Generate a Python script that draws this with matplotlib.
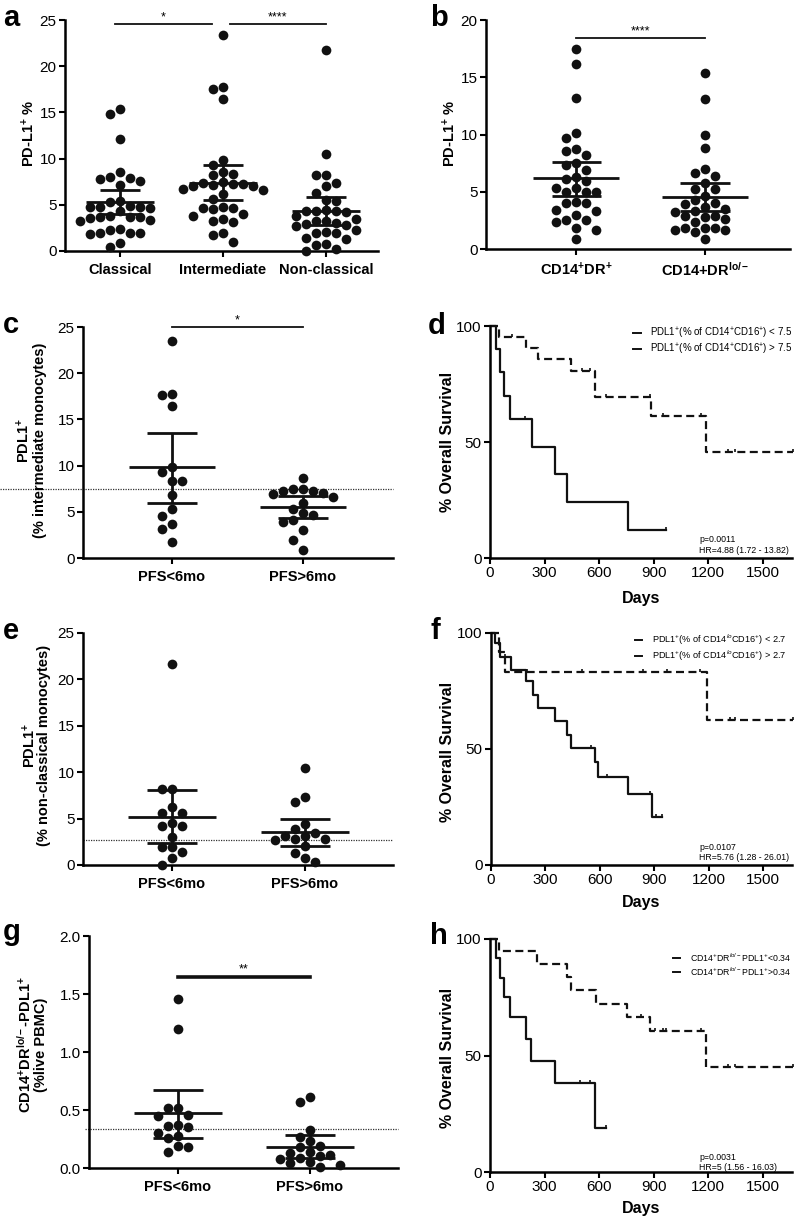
import numpy as np
import matplotlib
matplotlib.use("Agg")
import matplotlib.pyplot as plt
import matplotlib.transforms as mt
from matplotlib.path import Path
from matplotlib.lines import Line2D
from matplotlib.ticker import FormatStrFormatter

# ---------------- DATA ----------------
# panel a
cats_a = ["Classical", "Intermediate", "Non-classical"]
classical = [15.4, 14.8, 12.1, 8.5, 8.0, 7.9, 7.8, 7.6, 7.1, 5.4, 5.3, 4.9, 4.8, 4.8, 4.8, 4.7,
             4.3, 3.8, 3.7, 3.6, 3.7, 3.7, 3.3, 3.4, 2.4, 2.3, 1.9, 1.8, 1.9, 1.9, 0.9, 0.4]
intermediate = [23.4, 17.7, 17.5, 16.5, 9.9, 9.3, 8.6, 8.3, 8.2, 7.5, 7.4, 7.3, 7.2, 7.1, 7.0, 7.0,
                6.6, 6.7, 6.2, 5.6, 4.8, 4.6, 4.7, 4.5, 4.0, 3.8, 3.5, 3.2, 3.1, 2.0, 1.7, 1.0]
nonclassical = [21.7, 10.5, 8.2, 8.2, 7.4, 7.0, 6.3, 5.5, 5.4, 4.4, 4.3, 4.3, 4.3, 4.2, 3.8, 3.5,
                3.2, 3.2, 3.0, 2.9, 2.8, 2.7, 2.3, 2.1, 2.0, 1.9, 1.4, 1.3, 0.8, 0.7, 0.2, 0.0]
mean_a = [5.3, 7.4, 4.3]
lo_a = [4.0, 5.5, 2.8]
hi_a = [6.6, 9.3, 5.8]

# panel b
cats_b = [r"CD14$^{\mathbf{+}}$DR$^{\mathbf{+}}$", r"CD14+DR$^{\mathbf{lo/-}}$"]
dr_pos = [17.5, 16.2, 13.2, 10.1, 9.7, 8.7, 8.6, 8.2, 7.5, 7.3, 6.9, 6.3, 6.1, 5.9, 5.3, 5.3,
          5.0, 5.0, 5.0, 4.1, 4.0, 4.0, 3.4, 3.3, 3.0, 2.5, 2.4, 2.5, 1.8, 1.7, 0.9]
dr_lo = [15.4, 13.1, 10.0, 8.8, 7.0, 6.4, 6.6, 5.8, 5.2, 5.2, 4.6, 4.0, 4.3, 3.7, 3.35, 3.5,
         3.9, 3.2, 2.9, 2.6, 2.4, 2.9, 2.8, 1.8, 1.8, 1.7, 1.5, 1.7, 1.8, 0.9]
mean_b = [6.17, 4.57]
lo_b = [4.66, 3.32]
hi_b = [7.63, 5.8]

cats_pfs = ["PFS<6mo", "PFS>6mo"]
# panel c
c_short = [23.5, 17.6, 17.7, 16.5, 9.9, 9.3, 8.3, 8.3, 6.8, 5.3, 4.5, 3.7, 3.1, 1.7]
c_long = [8.7, 7.5, 7.5, 7.2, 6.9, 6.6, 7.0, 7.2, 6.0, 5.3, 4.9, 4.7, 4.1, 3.9, 3.0, 2.0, 0.9]
mean_c = [9.8, 5.55]
lo_c = [5.95, 4.36]
hi_c = [13.56, 6.71]
thr_c = 7.5

# panel e
e_short = [21.7, 8.15, 8.15, 6.3, 5.55, 5.55, 4.55, 4.25, 4.25, 3.0, 1.97, 1.97, 1.43, 0.72, 0.0]
e_long = [10.5, 7.3, 6.8, 4.4, 3.5, 3.16, 2.7, 3.16, 3.85, 2.8, 2.8, 2.08, 1.26, 0.8, 0.29]
mean_e = [5.2, 3.52]
lo_e = [2.33, 2.08]
hi_e = [8.08, 4.96]
thr_e = 2.7

# panel g
g_short = [1.46, 1.20, 0.52, 0.52, 0.46, 0.45, 0.37, 0.36, 0.35, 0.30, 0.28, 0.26, 0.19, 0.18, 0.14]
g_long = [0.61, 0.57, 0.33, 0.27, 0.23, 0.19, 0.18, 0.14, 0.13, 0.11, 0.10, 0.09, 0.08, 0.05,
          0.04, 0.03, 0.01]
mean_g = [0.471, 0.184]
lo_g = [0.261, 0.083]
hi_g = [0.672, 0.284]
thr_g = 0.34

# survival panels: event days, survival % after event, censor days, last follow-up
d_lo_events = [51, 198, 265, 443, 576, 887, 1185]
d_lo_surv = [95.2, 90.4, 85.6, 80.5, 69.6, 61.2, 45.8]
d_lo_cens = [119, 503, 549, 640, 878, 951, 1161, 1308, 1344, 1664]
d_lo_end = 1664
d_hi_events = [31, 55, 77, 110, 229, 357, 421, 759]
d_hi_surv = [90, 80, 70, 60, 48, 36, 24, 12]
d_hi_cens = [192, 969]
d_hi_end = 969

f_lo_events = [46, 75, 1192]
f_lo_surv = [91.7, 83.3, 62.5]
f_lo_cens = [198, 501, 840, 968, 1152, 1317, 1344, 1665]
f_lo_end = 1665
f_hi_events = [24, 51, 112, 194, 231, 258, 354, 418, 440, 574, 589, 757, 889]
f_hi_surv = [95.7, 89.6, 84.2, 79.1, 73.1, 67.6, 61.9, 56.1, 50.4, 44.3, 38.1, 30.6, 20.6]
f_hi_cens = [75, 550, 638, 877, 910, 941]
f_hi_end = 945

h_lo_events = [51, 260, 421, 443, 585, 754, 882, 1189]
h_lo_surv = [94.7, 89.4, 83.5, 77.9, 72.2, 66.7, 60.5, 45.2]
h_lo_cens = [832, 905, 951, 969, 1158, 1308, 1344, 1664]
h_lo_end = 1664
h_hi_events = [31, 55, 77, 110, 198, 225, 357, 576]
h_hi_surv = [91.7, 83.3, 75.0, 66.7, 57.1, 47.6, 38.1, 19.0]
h_hi_cens = [494, 549, 640]
h_hi_end = 640

# ---------------- STYLE ----------------
plt.rcParams["font.family"] = ["Liberation Sans", "DejaVu Sans"]
plt.rcParams["mathtext.fontset"] = "custom"
plt.rcParams["mathtext.rm"] = "Liberation Sans"
plt.rcParams["mathtext.it"] = "Liberation Sans:italic"
plt.rcParams["mathtext.bf"] = "Liberation Sans:bold"

W, H = 800, 1219
fig = plt.figure(figsize=(W / 100, H / 100), dpi=100)


def add_ax(left, right, top, bottom):
    return fig.add_axes([left / W, 1 - bottom / H, (right - left) / W, (bottom - top) / H])


def fx(x):
    return x / W


def fy(y):
    return 1 - y / H


def style(ax):
    for s in ["top", "right"]:
        ax.spines[s].set_visible(False)
    for s in ["left", "bottom"]:
        ax.spines[s].set_linewidth(1.8)
    ax.tick_params(direction="out", length=4.5, width=1.5, labelsize=11, pad=1.5)


def swarm(ax, center, values, dpx=10.0, diam=9.3):
    values = np.asarray(values, float)
    pts = ax.transData.transform(np.column_stack([np.full(len(values), center), values]))
    ypx = pts[:, 1]
    xscale = ax.transData.transform([[1, 0]])[0, 0] - ax.transData.transform([[0, 0]])[0, 0]
    order = np.argsort(-values, kind="stable")
    placed = []
    offs = np.zeros(len(values))
    cands = [0]
    for k in range(1, 12):
        cands += [-k, k]
    for i in order:
        for k in cands:
            xo = k * dpx
            if all((xo - px) ** 2 + (ypx[i] - py) ** 2 >= diam ** 2 for px, py in placed):
                break
        placed.append((xo, ypx[i]))
        offs[i] = xo
    return center + offs / xscale


def scatter_panel(ax, groups, means, lo, hi, xlim, ylim, yticks, cats):
    style(ax)
    ax.set_xlim(*xlim)
    ax.set_ylim(*ylim)
    ax.set_yticks(yticks)
    for i, vals in enumerate(groups):
        xs = swarm(ax, i, vals)
        ax.plot(xs, vals, "o", color="#111111", ms=7.0, mec="none", clip_on=False, zorder=3)
        ax.hlines(means[i], i - 0.33, i + 0.33, lw=2.0, color="#111111", zorder=4)
        ax.vlines(i, lo[i], hi[i], lw=2.0, color="#111111", zorder=4)
        ax.hlines([lo[i], hi[i]], i - 0.19, i + 0.19, lw=2.0, color="#111111", zorder=4)
    ax.set_xticks(range(len(cats)))
    ax.set_xticklabels(cats, fontweight="bold", fontsize=10.5)
    ax.tick_params(axis="x", pad=4)


def sig(ax, x0, x1, y, label, lw=1.3, tx=None):
    ax.plot([x0, x1], [y, y], color="#111111", lw=lw, clip_on=False)
    if tx is None:
        tx = (x0 + x1) / 2
    ax.annotate(label, (tx, y), xytext=(0, 0.5), textcoords="offset points",
                ha="center", va="bottom", fontsize=9, annotation_clip=False)


def thresh(ax, y, x0px, left, right):
    tr = mt.blended_transform_factory(ax.transAxes, ax.transData)
    xa = (x0px - left) / (right - left)
    ax.plot([xa, 1.0], [y, y], ls=(0, (1, 1)), lw=0.9, color="#333333", transform=tr,
            clip_on=False, zorder=2)


tick_marker = Path([(0, 0), (0, 1)], [Path.MOVETO, Path.LINETO])


def km(ax, events, surv, cens, end, dashed):
    t = np.r_[0, events, end]
    s = np.r_[100, surv, surv[-1]]
    ls = (0, (3.6, 2.0)) if dashed else "-"
    ax.step(t, s, where="post", color="#111111", lw=1.6, ls=ls, clip_on=False)
    idx = np.searchsorted(t, cens, side="right") - 1
    ax.plot(cens, s[idx], ls="none", marker=tick_marker, ms=5, mew=1.2, color="#111111",
            clip_on=False)


def surv_panel(ax, curves):
    style(ax)
    ax.set_xlim(0, 1660)
    ax.set_ylim(0, 100)
    ax.set_xticks([0, 300, 600, 900, 1200, 1500])
    ax.set_yticks([0, 50, 100])
    for c in curves:
        km(ax, *c)


# ---------------- PANELS ----------------
ax_a = add_ax(65, 378, 20, 251)
scatter_panel(ax_a, [classical, intermediate, nonclassical], mean_a, lo_a, hi_a,
              (-0.534, 2.505), (0, 25), [0, 5, 10, 15, 20, 25], cats_a)
sig(ax_a, -0.05, 0.89, 24.6, "*", tx=0.42)
sig(ax_a, 1.07, 2.0, 24.6, "****", tx=1.53)

ax_b = add_ax(486, 790, 20, 249)
scatter_panel(ax_b, [dr_pos, dr_lo], mean_b, lo_b, hi_b,
              (-0.698, 1.659), (0, 20), [0, 5, 10, 15, 20], cats_b)
sig(ax_b, 0, 1, 18.4, "****")

ax_c = add_ax(83, 393, 327, 558)
scatter_panel(ax_c, [c_short, c_long], mean_c, lo_c, hi_c,
              (-0.679, 1.687), (0, 25), [0, 5, 10, 15, 20, 25], cats_pfs)
thresh(ax_c, thr_c, 0, 83, 393)
sig(ax_c, 0, 1, 25.0, "*")

ax_e = add_ax(83, 393, 633, 865)
scatter_panel(ax_e, [e_short, e_long], mean_e, lo_e, hi_e,
              (-0.669, 1.662), (0, 25), [0, 5, 10, 15, 20, 25], cats_pfs)
thresh(ax_e, thr_e, 83, 83, 393)

ax_g = add_ax(89, 398, 936, 1168)
scatter_panel(ax_g, [g_short, g_long], mean_g, lo_g, hi_g,
              (-0.674, 1.667), (0, 2.0), [0, 0.5, 1.0, 1.5, 2.0], cats_pfs)
ax_g.yaxis.set_major_formatter(FormatStrFormatter("%.1f"))
thresh(ax_g, thr_g, 85, 89, 398)
sig(ax_g, 0, 1, 1.65, "**", lw=2.6)

ax_d = add_ax(490, 792, 326, 558)
surv_panel(ax_d, [(d_lo_events, d_lo_surv, d_lo_cens, d_lo_end, True),
                  (d_hi_events, d_hi_surv, d_hi_cens, d_hi_end, False)])
ax_f = add_ax(491, 792, 633, 865)
surv_panel(ax_f, [(f_lo_events, f_lo_surv, f_lo_cens, f_lo_end, True),
                  (f_hi_events, f_hi_surv, f_hi_cens, f_hi_end, False)])
ax_h = add_ax(490, 792, 939, 1172)
surv_panel(ax_h, [(h_lo_events, h_lo_surv, h_lo_cens, h_lo_end, True),
                  (h_hi_events, h_hi_surv, h_hi_cens, h_hi_end, False)])

# ---------------- LABELS ----------------
bold = dict(fontweight="bold", fontsize=10.5, rotation=90, ha="center", va="center")
fig.text(fx(29), fy(133), r"PD-L1$^{\mathbf{+}}$ %", **bold)
fig.text(fx(450), fy(133), r"PD-L1$^{\mathbf{+}}$ %", **bold)
fig.text(fx(31), fy(440), "PDL1$^{\\mathbf{+}}$\n(% intermediate monocytes)", linespacing=1.0, **bold)
fig.text(fx(36), fy(745), "PDL1$^{\\mathbf{+}}$\n(% non-classical monocytes)", linespacing=0.85, **bold)
fig.text(fx(32), fy(1045), "CD14$^{\\mathbf{+}}$DR$^{\\mathbf{lo/-}}$-PDL1$^{\\mathbf{+}}$\n(%live PBMC)",
         linespacing=1.0, **bold)
for yc in (442, 752, 1058):
    fig.text(fx(447), fy(yc), "% Overall Survival", **dict(bold, fontsize=11.5))
for yc in (598, 903, 1209):
    fig.text(fx(641), fy(yc), "Days", fontweight="bold", fontsize=11.5, ha="center", va="center")

# panel letters
for lab, x, y in [("a", 3, 26), ("b", 430, 26), ("c", 3, 333), ("d", 428, 334),
                  ("e", 3, 639), ("f", 431, 639), ("g", 3, 940), ("h", 430, 944)]:
    fig.text(fx(x), fy(y), lab, fontweight="bold", fontsize=21, ha="left", va="baseline")


# survival legends
def legend(x0, x1, xt, ys, labels, fs):
    for y, lab in zip(ys, labels):
        fig.add_artist(Line2D([fx(x0), fx(x1)], [fy(y), fy(y)], color="#111111", lw=1.4,
                              transform=fig.transFigure))
        fig.text(fx(xt), fy(y), lab, fontsize=fs, ha="left", va="center")


legend(633, 641, 650, [333, 349],
       [r"PDL1$^{+}$(% of CD14$^{+}$CD16$^{+}$) < 7.5", r"PDL1$^{+}$(% of CD14$^{+}$CD16$^{+}$) > 7.5"], 7)
legend(635, 642, 652, [640, 656],
       [r"PDL1$^{+}$(% of CD14$^{lo}$CD16$^{+}$) < 2.7", r"PDL1$^{+}$(% of CD14$^{lo}$CD16$^{+}$) > 2.7"], 6.6)
legend(673, 680, 690, [958, 972],
       [r"CD14$^{+}$DR$^{lo/-}$PDL1$^{+}$<0.34", r"CD14$^{+}$DR$^{lo/-}$PDL1$^{+}$>0.34"], 6.3)

# statistics text
for yp, yh, p, hr in [(539, 550, "p=0.0011", "HR=4.88 (1.72 - 13.82)"),
                      (847, 857, "p=0.0107", "HR=5.76 (1.28 - 26.01)"),
                      (1157, 1167, "p=0.0031", "HR=5 (1.56 - 16.03)")]:
    fig.text(fx(699), fy(yp), p, fontsize=6.3, ha="left", va="center")
    fig.text(fx(699), fy(yh), hr, fontsize=6.3, ha="left", va="center")

fig.savefig("out.png", dpi=100)
